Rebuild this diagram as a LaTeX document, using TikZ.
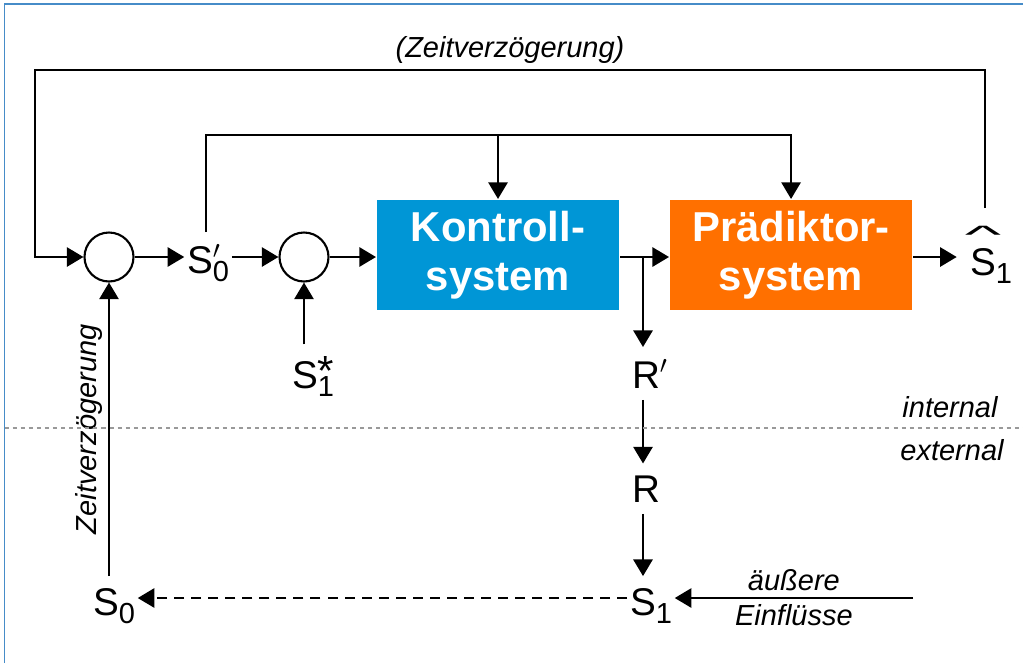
\documentclass[tikz,border=0pt]{standalone}
\usepackage{graphicx}
\usepackage{fontspec}
\setmainfont{Liberation Sans}
\usepackage{tikz}
\usetikzlibrary{arrows.meta,positioning}
\definecolor{kontrollblue}{RGB}{0,150,214}
\definecolor{praedorange}{RGB}{255,112,0}
\definecolor{frameblue}{RGB}{70,140,200}
% signal name: letter, index below, mark above
\newcommand{\sig}[3]{#1\rlap{#3}\raisebox{-5pt}{\fontsize{16.5}{16.5}\selectfont #2}}
\newcommand{\pr}{\raisebox{1pt}{${}'$}}
\newcommand{\hatmark}{\raisebox{18pt}{\scalebox{2.0}[0.65]{\textasciicircum}}}
\newcommand{\hatS}{\setbox0\hbox{S}\rlap{\hbox to \wd0{\hss\hatmark\hss}}S}
\tikzset
{
    sysbox/.style  = {fill=#1, text=white, font=\fontsize{23.8}{27.8}\selectfont\bfseries, align=center, minimum width=4.84cm, minimum height=2.2cm, inner sep=0pt},
    sumnode/.style = {circle, draw=black, minimum size=0.98cm, inner sep=0pt},
    signal/.style  = {font=\fontsize{22}{26}\selectfont, anchor=base, inner xsep=1pt, inner ysep=4pt, outer ysep=2.8pt},
    note/.style    = {font=\fontsize{16.5}{19}\selectfont\itshape}
}

\begin{document}
\begin{tikzpicture}[x=0.02cm, y=-0.02cm, >={Triangle[length=9.5pt,width=11pt]}, line width=1.2pt]
    \useasboundingbox (0,0) rectangle (1023,663);
    \draw [frameblue, line width=0.9pt] (4.5,663) -- (4.5,4) -- (1023,4);

    % main line
    \node [sumnode] (sum1) at (109,257) {};
    \node [signal] (s0p) at (208,273) {\sig{S}{0}{\pr}};
    \node [sumnode] (sum2) at (304,257) {};
    \node [sysbox=kontrollblue] (kon) at (498,255) {Kontroll-\\system};
    \node [sysbox=praedorange, right=0.98cm of kon] (pra) {Pr\"adiktor-\\system};
    \node [signal, inner xsep=7pt] (shat) at (991,275) {\sig{\hatS}{1}{}};
    \node [signal] (s1star) at (313,388) {\sig{S}{1}{\raisebox{1.5pt}{\fontsize{24}{24}\selectfont*}}};

    % response chain
    \node [signal] (rp) at (646,388) {R\rlap{\pr}};
    \node [signal] (r) at (646,502) {R};
    \node [signal] (s1) at (651,615) {\sig{S}{1}{}};
    \node [signal] (s0) at (114,615) {\sig{S}{0}{}};

    \coordinate (fb) at (985,208);
    \coordinate (tl) at (35,70);
    \coordinate (il) at (206,135);
    \coordinate (br) at (643,257);
    \coordinate (ext) at (913,598);

    % loops
    \draw [->] (fb) |- node [note, above, pos=0.75] {(Zeitverz\"ogerung)} (tl) |- (sum1.west);
    \draw [->] (s0p.north -| il) -- (il) -| (pra.north);
    \draw [->] (kon.north |- il) -- (kon.north);

    \draw [->] (sum1.east) -- (sum1.east -| s0p.west);
    \draw [->] (s0p.east |- sum2) -- (sum2.west);
    \draw [->] (sum2.east) -- (sum2.east -| kon.west);
    \draw [->] (kon.east |- br) -- (pra.west |- br);
    \draw [->] (pra.east |- br) -- (shat.west |- br);
    \draw [->] (s1star.north -| sum2) -- (sum2.south);

    \draw [->] (br) -- (br |- rp.north);
    \draw [->] (br |- rp.south) -- (br |- r.north);
    \draw [->] (br |- r.south) -- (br |- s1.north);
    \draw [->] (ext) -- node [note, above] {\"au{\ss}ere} node [note, below] {Einfl\"usse} (ext -| s1.east);
    \draw [->, dash pattern=on 5.7pt off 4pt] (s1.west |- ext) -- (s0.east |- ext);
    \draw [->] (s0.north -| sum1) -- node [note, sloped, above] {Zeitverz\"ogerung} (sum1.south);

    % boundary
    \draw [gray!80, line width=0.6pt, dash pattern=on 2.3pt off 2.3pt] (4.5,428) -- (1023,428);
    \node [note] (int) at (950,407) {internal};
    \node [note] (ext2) at (952,450) {external};
\end{tikzpicture}
\end{document}
